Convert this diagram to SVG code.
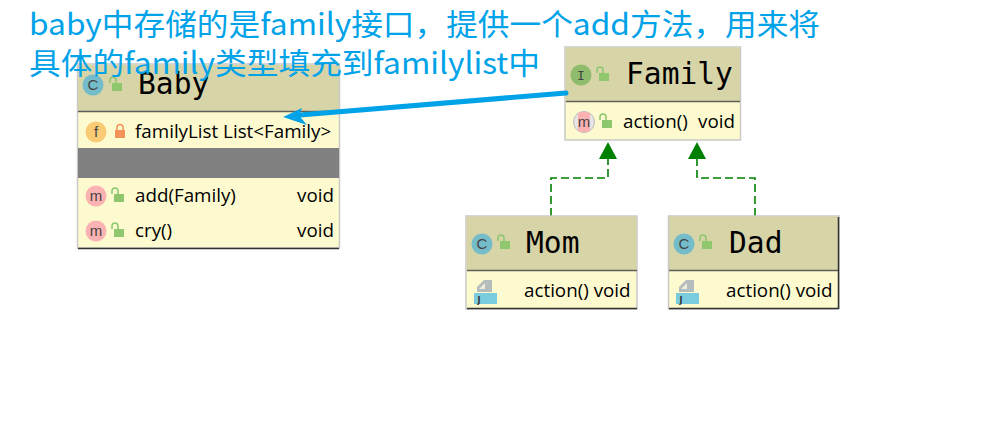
<svg xmlns="http://www.w3.org/2000/svg" width="984" height="429" viewBox="0 0 984 429">
<style>
.box{fill:#fefacf;stroke:#c9c9c9;stroke-width:1.5}
.hd{fill:#d7d4a8}
.sep{stroke:#5f5f5a;stroke-width:1.5}
.bot{stroke:#333;stroke-width:1.5}
.name{font-family:"DejaVu Sans Mono","Liberation Mono",monospace;font-size:29.6px;fill:#000}
.mem{font-family:"Open Sans","Noto Sans",sans-serif;font-size:18.8px;fill:#000}
.note{font-family:"Noto Sans CJK SC","Noto Sans",sans-serif;font-size:30px;fill:#00a2e8}
.ic{font-family:"Liberation Sans",sans-serif;font-size:15px;fill:#444;text-anchor:middle}
.imono{font-family:"DejaVu Sans Mono",monospace;font-size:13px;fill:#444;text-anchor:middle}
.lock{fill:#8fc76f}
.shack{fill:none;stroke:#8fc76f;stroke-width:1.6}
.dash{fill:none;stroke:#008000;stroke-width:1.6;stroke-dasharray:8 4}
.ah{fill:#008000}
</style>
<defs>
<g id="open"><rect x="-3" y="0" width="10" height="8" class="lock"/><path d="M-5 0V-3A3 3 0 0 1 1 -3V0" class="shack"/></g>
<g id="jicon"><path d="M3 -6L10 -13H18V-1H3Z" fill="#b5bcbc"/><path d="M5 -4L11 -10V-4Z" fill="#eeeedd"/><rect x="0" y="0" width="23" height="11" fill="#79cbdd"/><text x="5" y="10" font-family="DejaVu Sans,sans-serif" font-size="8" font-weight="bold" fill="#333" text-anchor="middle">J</text></g>
</defs>
<g id="connectors">
<path d="M551 216V178H608V158" class="dash"/>
<path d="M755 216V178H697V158" class="dash"/>
<path d="M608 142L617 159H599Z" class="ah"/>
<path d="M697 142L706 159H688Z" class="ah"/>
</g>
<g id="node-baby">
<rect x="77.500" y="64" width="262" height="184" class="box"/>
<rect x="78" y="65" width="261" height="46" class="hd"/>
<line x1="78" y1="111.500" x2="339" y2="111.500" class="sep"/>
<rect x="78" y="148" width="261" height="30" fill="#808080"/>
<line x1="78" y1="248.500" x2="339" y2="248.500" class="bot"/>
<circle cx="93" cy="85" r="10.500" fill="#75bccb"/><text x="93" y="90" class="ic">C</text>
<use href="#open" x="115" y="83"/>
<text x="138" y="94" class="name">Baby</text>
<circle cx="96" cy="132" r="10.500" fill="#f8cb74"/><text x="96" y="137" class="ic">f</text>
<rect x="115" y="130" width="10" height="8" fill="#f49458"/><path d="M117 130V127.500A3 3 0 0 1 123 127.500V130" fill="none" stroke="#f49458" stroke-width="1.600"/>
<text x="135" y="138" class="mem">familyList List&lt;Family&gt;</text>
<circle cx="96" cy="196" r="10.500" fill="#fab2b2"/><text x="96" y="201" class="ic">m</text>
<use href="#open" x="117" y="194"/>
<text x="135" y="202" class="mem">add(Family)</text>
<text x="334" y="202" class="mem" text-anchor="end">void</text>
<circle cx="96" cy="231" r="10.500" fill="#fab2b2"/><text x="96" y="236" class="ic">m</text>
<use href="#open" x="117" y="229"/>
<text x="135" y="237" class="mem">cry()</text>
<text x="334" y="237" class="mem" text-anchor="end">void</text>
</g>
<g id="node-family">
<rect x="565" y="47" width="175.500" height="93" class="box"/>
<rect x="565.500" y="47.500" width="174.500" height="54" class="hd"/>
<line x1="566" y1="101.500" x2="740" y2="101.500" class="sep"/>
<circle cx="581" cy="75" r="10.500" fill="#8fbc6c"/><text x="581" y="80" class="imono">I</text>
<use href="#open" x="602" y="73"/>
<text x="626" y="84" class="name">Family</text>
<circle cx="584" cy="122" r="10.500" fill="#e5e5e5" stroke="#bbb"/><rect x="578" y="112" width="12" height="20" rx="3" fill="#fab2b2"/><text x="584" y="127" class="ic">m</text>
<use href="#open" x="605" y="120"/>
<text x="623" y="128" class="mem">action()</text>
<text x="735" y="128" class="mem" text-anchor="end">void</text>
</g>
<g id="node-mom">
<rect x="466" y="216" width="171" height="93" class="box"/>
<rect x="466.500" y="216.500" width="170" height="54" class="hd"/>
<line x1="467" y1="270.500" x2="637" y2="270.500" class="sep"/>
<line x1="467" y1="308.500" x2="637" y2="308.500" class="bot"/>
<circle cx="482" cy="244" r="10.500" fill="#75bccb"/><text x="482" y="249" class="ic">C</text>
<use href="#open" x="503" y="241"/>
<text x="526" y="253" class="name">Mom</text>
<use href="#jicon" x="474" y="293"/>
<text x="524" y="297" class="mem">action() void</text>
</g>
<g id="node-dad">
<rect x="668.500" y="216" width="170.500" height="93" class="box"/>
<rect x="669" y="216.500" width="169.500" height="54" class="hd"/>
<line x1="669" y1="270.500" x2="838" y2="270.500" class="sep"/>
<line x1="669" y1="308.500" x2="838" y2="308.500" class="bot"/>
<line x1="838.500" y1="217" x2="838.500" y2="309" class="bot"/>
<circle cx="684" cy="244" r="10.500" fill="#75bccb"/><text x="684" y="249" class="ic">C</text>
<use href="#open" x="705" y="241"/>
<text x="729" y="253" class="name">Dad</text>
<use href="#jicon" x="676" y="293"/>
<text x="726" y="297" class="mem">action() void</text>
</g>
<g id="annotation">
<text x="29" y="35" class="note" textLength="791" lengthAdjust="spacingAndGlyphs">baby中存储的是family接口，提供一个add方法，用来将</text>
<text x="29" y="74" class="note" textLength="511" lengthAdjust="spacingAndGlyphs">具体的family类型填充到familylist中</text>
<line x1="566" y1="93" x2="300" y2="115" stroke="#00a2e8" stroke-width="5" stroke-linecap="round"/>
<path d="M283 117L302 108L299 115.500L307 125Z" fill="#00a2e8"/>
</g>
</svg>
